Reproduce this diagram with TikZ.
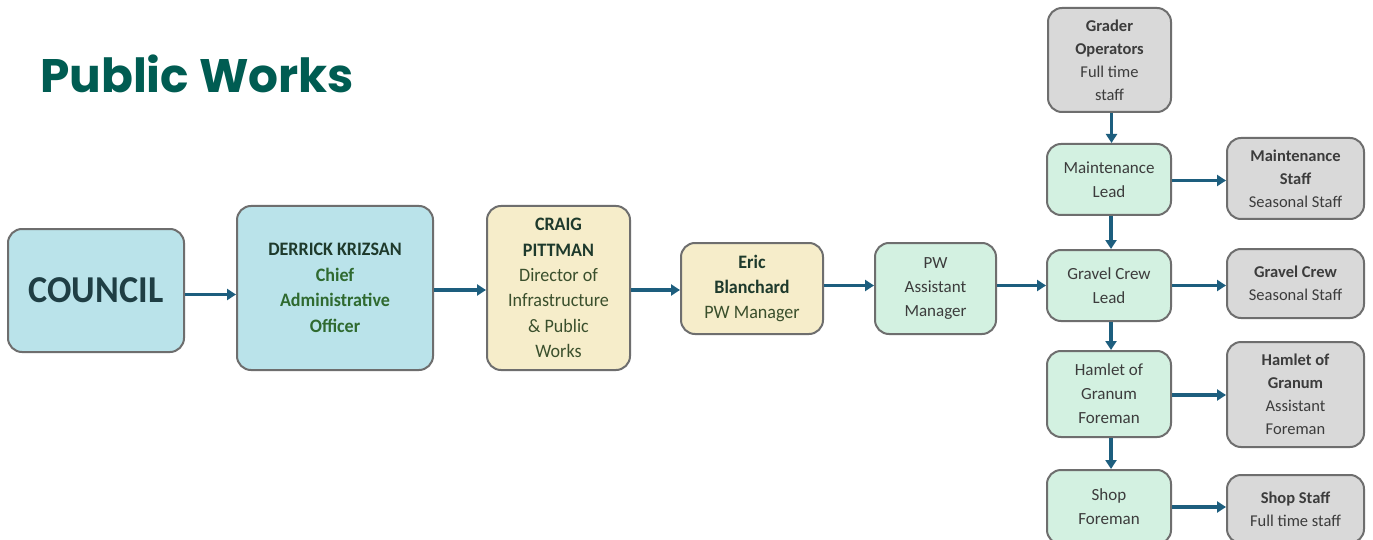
\documentclass[tikz,border=0pt]{standalone}
\usepackage{fontspec}
\setmainfont{Carlito}
\newfontfamily\titlefont{Poppins}
\newfontfamily\wideboxfont{Carlito}[FakeStretch=0.95]
\usetikzlibrary{arrows.meta}
\definecolor{titlegreen}{HTML}{005C52}
\definecolor{bluefill}{HTML}{BAE3EA}
\definecolor{beigefill}{HTML}{F6EDCA}
\definecolor{mintfill}{HTML}{D3F1E1}
\definecolor{grayfill}{HTML}{D9D9D9}
\definecolor{boxline}{HTML}{6E6E6E}
\definecolor{arrowblue}{HTML}{1D5E7E}
\definecolor{darktxt}{HTML}{1E3A2C}
\definecolor{greentxt}{HTML}{2F6A30}
\definecolor{olivetxt}{HTML}{3A4F2C}
\definecolor{graytxt}{HTML}{3C3C3C}
\definecolor{councilTxt}{HTML}{1F3E44}
\tikzset{
  box/.style={draw=boxline, line width=2pt, rounded corners=14pt, inner sep=0pt,
    align=center, font=\fontsize{17}{24}\selectfont},
  bluebox/.style={box, fill=bluefill, font=\wideboxfont\fontsize{19}{25.5}\selectfont},
  beigebox/.style={box, fill=beigefill, font=\wideboxfont\fontsize{19}{25.3}\selectfont},
  mintbox/.style={box, fill=mintfill, text=graytxt},
  graybox/.style={box, fill=grayfill, text=graytxt, font=\fontsize{16.5}{23}\selectfont},
  arr/.style={draw=arrowblue, line width=3.2pt, -{Triangle[length=9pt,width=11pt]}},
}
% place a box by its corners (x1,y1)-(x2,y2)
\newcommand{\boxat}[7]{%
  \node[#1, minimum width={#4-#2}, minimum height={#5-#3}] (#6) at ({(#2+#4)/2},{(#3+#5)/2}) {#7};}
\begin{document}
\begin{tikzpicture}[x=1pt,y=-1pt]
\useasboundingbox[fill=white] (0,0) rectangle (1373,540);

\node[anchor=base west, inner sep=0pt, text=titlegreen,
  font=\titlefont\bfseries\fontsize{47}{50}\selectfont] (title) at (40,93) {Public Works};

\boxat{bluebox}{8}{229}{184}{352}{council}{\textcolor{councilTxt}{\bfseries\fontsize{38}{40}\selectfont COUNCIL}}
\boxat{bluebox}{237}{206}{433}{370}{cao}{\textcolor{darktxt}{\bfseries DERRICK KRIZSAN}\\
  \textcolor{greentxt}{\bfseries Chief}\\ \textcolor{greentxt}{\bfseries Administrative}\\ \textcolor{greentxt}{\bfseries Officer}}
\boxat{beigebox}{487}{206}{630}{370}{dir}{\textcolor{darktxt}{\bfseries CRAIG}\\ \textcolor{darktxt}{\bfseries PITTMAN}\\
  \textcolor{olivetxt}{Director of}\\ \textcolor{olivetxt}{Infrastructure}\\ \textcolor{olivetxt}{\& Public}\\ \textcolor{olivetxt}{Works}}
\boxat{beigebox}{681}{243}{823}{334}{mgr}{\textcolor{darktxt}{\bfseries Eric}\\ \textcolor{darktxt}{\bfseries Blanchard}\\
  \textcolor{olivetxt}{PW Manager}}
\boxat{mintbox}{875}{243}{996}{334}{asst}{PW\\ Assistant\\ Manager}

\boxat{graybox}{1048}{8}{1171}{112}{grader}{\textbf{Grader}\\ \textbf{Operators}\\ Full time\\ staff}
\boxat{mintbox}{1047}{144}{1171}{215}{mlead}{Maintenance\\ Lead}
\boxat{graybox}{1227}{138}{1364}{219}{mstaff}{\textbf{Maintenance}\\ \textbf{Staff}\\ Seasonal Staff}
\boxat{mintbox}{1047}{250}{1171}{321}{glead}{Gravel Crew\\ Lead}
\boxat{graybox}{1227}{249}{1364}{318}{gstaff}{\textbf{Gravel Crew}\\ Seasonal Staff}
\boxat{mintbox}{1047}{351}{1171}{437}{hfore}{Hamlet of\\ Granum\\ Foreman}
\boxat{graybox}{1227}{342}{1364}{447}{hasst}{\textbf{Hamlet of}\\ \textbf{Granum}\\ Assistant\\ Foreman}
\boxat{mintbox}{1047}{470}{1171}{544}{sfore}{Shop\\ Foreman}
\boxat{graybox}{1227}{475}{1364}{543}{sstaff}{\textbf{Shop Staff}\\ Full time staff}

% chain of command
\draw[arr] ([yshift=-4pt]council.east) -- ([yshift=-4pt]council.east -| cao.west);
\draw[arr] ([yshift=-2pt]cao.east) -- ([yshift=-2pt]cao.east -| dir.west);
\draw[arr] ([yshift=-2pt]dir.east) -- ([yshift=-2pt]dir.east -| mgr.west);
\draw[arr] ([yshift=3pt]mgr.east) -- ([yshift=3pt]mgr.east -| asst.west);
\draw[arr] (asst.east |- glead.west) -- (glead.west);

% field crews
\draw[arr] ([xshift=2pt]grader.south) -- ([xshift=2pt]grader.south |- mlead.north);
\draw[arr] ([xshift=2pt]mlead.south) -- ([xshift=2pt]mlead.south |- glead.north);
\draw[arr] ([xshift=2pt]glead.south) -- ([xshift=2pt]glead.south |- hfore.north);
\draw[arr] ([xshift=2pt]hfore.south) -- ([xshift=2pt]hfore.south |- sfore.north);
\draw[arr] ([yshift=-1pt]mlead.east) -- ([yshift=-1pt]mlead.east -| mstaff.west);
\draw[arr] (glead.east) -- (glead.east -| gstaff.west);
\draw[arr] ([yshift=-1pt]hfore.east) -- ([yshift=-1pt]hfore.east -| hasst.west);
\draw[arr] (sfore.east) -- (sfore.east -| sstaff.west);
\end{tikzpicture}
\end{document}
